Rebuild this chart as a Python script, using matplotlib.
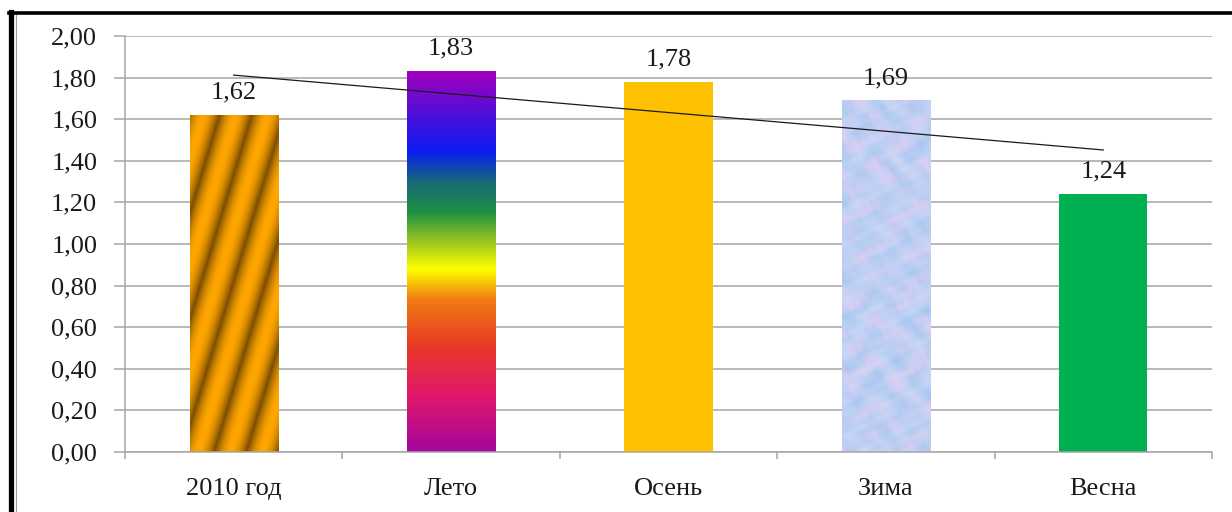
import numpy as np
import matplotlib
matplotlib.use("Agg")
import matplotlib.pyplot as plt
from matplotlib.colors import LinearSegmentedColormap, to_rgb
from matplotlib.lines import Line2D

categories = ["2010 год", "Лето", "Осень", "Зима", "Весна"]
values = [1.62, 1.83, 1.78, 1.69, 1.24]
yticks = [0.0, 0.2, 0.4, 0.6, 0.8, 1.0, 1.2, 1.4, 1.6, 1.8, 2.0]

plt.rcParams['font.family'] = ['Liberation Serif', 'DejaVu Serif']
FS = 19

W, H = 1232, 512
fig = plt.figure(figsize=(W / 100, H / 100), dpi=100)
ax = fig.add_axes([125 / W, 1 - 452 / H, (1212 - 125) / W, (452 - 36) / H])

x = np.arange(len(values))
bw = 0.405
bars = ax.bar(x, values, width=bw, color=["none", "none", "#ffc000", "none", "#00b050"],
              edgecolor="none", zorder=2)

# pixel scale, used only for texture sizes
px_x = (1212 - 125) / 5.0
px_y = (452 - 36) / 2.0


def tex_grid(bar, n=300):
    x0, y0 = bar.get_x(), bar.get_y()
    w, h = bar.get_width(), bar.get_height()
    xs = np.linspace(0, w * px_x, n)
    ys = np.linspace(0, h * px_y, n)
    X, Y = np.meshgrid(xs, ys)
    return X, Y, [x0, x0 + w, y0, y0 + h]


def blend(c1, c2, t):
    c1 = np.array(to_rgb(c1)); c2 = np.array(to_rgb(c2))
    return c1 + (c2 - c1) * t[..., None]


# bar 1: golden diagonal stripes, rising to the right
X, Y, ext = tex_grid(bars[0])
u = X - Y * 0.30
t = 0.5 + 0.5 * np.sin(2 * np.pi * u / 32.0)
t = t ** 0.45
img = blend("#7a4c00", "#ffa600", t)
im = ax.imshow(img, extent=ext, origin="lower", aspect="auto", zorder=2, interpolation="bilinear")
im.set_clip_path(bars[0])

# bar 2: rainbow vertical gradient
rainbow = LinearSegmentedColormap.from_list("rb", [
    (0.00, "#a4069c"), (0.15, "#e2186a"), (0.28, "#e83a26"), (0.40, "#f07c12"),
    (0.48, "#ffff00"), (0.56, "#90c024"), (0.63, "#1e9044"), (0.71, "#176a78"),
    (0.79, "#0a1cf2"), (0.88, "#4a10dc"), (1.00, "#a200bc")])
grad = np.linspace(0, 1, 256)[:, None]
b = bars[1]
im2 = ax.imshow(grad, cmap=rainbow, extent=[b.get_x(), b.get_x() + b.get_width(), 0, b.get_height()],
                origin="lower", aspect="auto", zorder=2, interpolation="bilinear")
im2.set_clip_path(b)

# bar 4: light blue mottled texture (deterministic sines)
X, Y, ext = tex_grid(bars[3])
n1 = (np.sin(X / 6.0 + np.sin(Y / 9.0) * 2.5) + np.sin(Y / 7.0 + np.cos(X / 11.0) * 2.5)
      + np.sin((X + Y) / 4.3) * 0.6 + np.sin((X - 2 * Y) / 3.6) * 0.5)
n2 = (np.sin(X / 8.5 - Y / 13.0 + np.sin(Y / 5.0) * 1.5) + np.cos(Y / 6.3 + np.sin(X / 7.0) * 1.8)
      + np.sin((2 * X + Y) / 3.1) * 0.4)
n1 = (n1 - n1.min()) / (n1.max() - n1.min())
n2 = (n2 - n2.min()) / (n2.max() - n2.min())
img4 = blend("#cad8f6", "#a4c6f0", n1)
img4 = img4 + (np.array(to_rgb("#e4cdf2")) - img4) * (n2[..., None] ** 2) * 0.75
im4 = ax.imshow(np.clip(img4, 0, 1), extent=ext, origin="lower", aspect="auto", zorder=2,
                interpolation="bilinear")
im4.set_clip_path(bars[3])

# linear trend line
k, c0 = np.polyfit(x, values, 1)
ax.plot(x, k * x + c0, color="#1a1a1a", lw=0.9, zorder=3)

for xi, v in zip(x, values):
    ax.text(xi, v + 0.055, f"{v:.2f}".replace(".", ","), ha="center", va="bottom",
            fontsize=FS, color="#1a1a1a", zorder=4)

ax.set_xlim(-0.5, len(values) - 0.5)
ax.set_ylim(0, 2.0)
ax.set_yticks(yticks)
ax.set_yticklabels([f"{v:.2f}".replace(".", ",") for v in yticks], fontsize=FS, color="#1a1a1a")
ax.yaxis.grid(True, color="#a6a6a6", lw=1.1, zorder=0)
ax.set_axisbelow(True)

ax.set_xticks(x)
ax.set_xticklabels(categories, fontsize=FS, color="#1a1a1a")
ax.tick_params(axis="x", which="major", length=0, pad=19)
ax.set_xticks(np.arange(-0.5, len(values), 1.0), minor=True)
ax.tick_params(axis="x", which="minor", length=5, color="#a6a6a6", width=1.1)
ax.tick_params(axis="y", length=8, color="#a6a6a6", width=1.1, pad=12)

for s in ["top", "right"]:
    ax.spines[s].set_visible(False)
for s in ["left", "bottom"]:
    ax.spines[s].set_color("#a6a6a6")
    ax.spines[s].set_linewidth(1.1)

# outer frame (top and left edges visible)
fig.add_artist(Line2D([9 / W, 1], [1 - 13 / H, 1 - 13 / H], color="black", lw=2.6,
                      transform=fig.transFigure))
fig.add_artist(Line2D([11 / W, 11 / W], [0, 1 - 12 / H], color="black", lw=3.8,
                      transform=fig.transFigure))
fig.add_artist(Line2D([15.5 / W, 15.5 / W], [0, 1 - 15 / H], color="#9a9a9a", lw=0.8,
                      transform=fig.transFigure))

fig.savefig("out.png", dpi=100, facecolor="white")
